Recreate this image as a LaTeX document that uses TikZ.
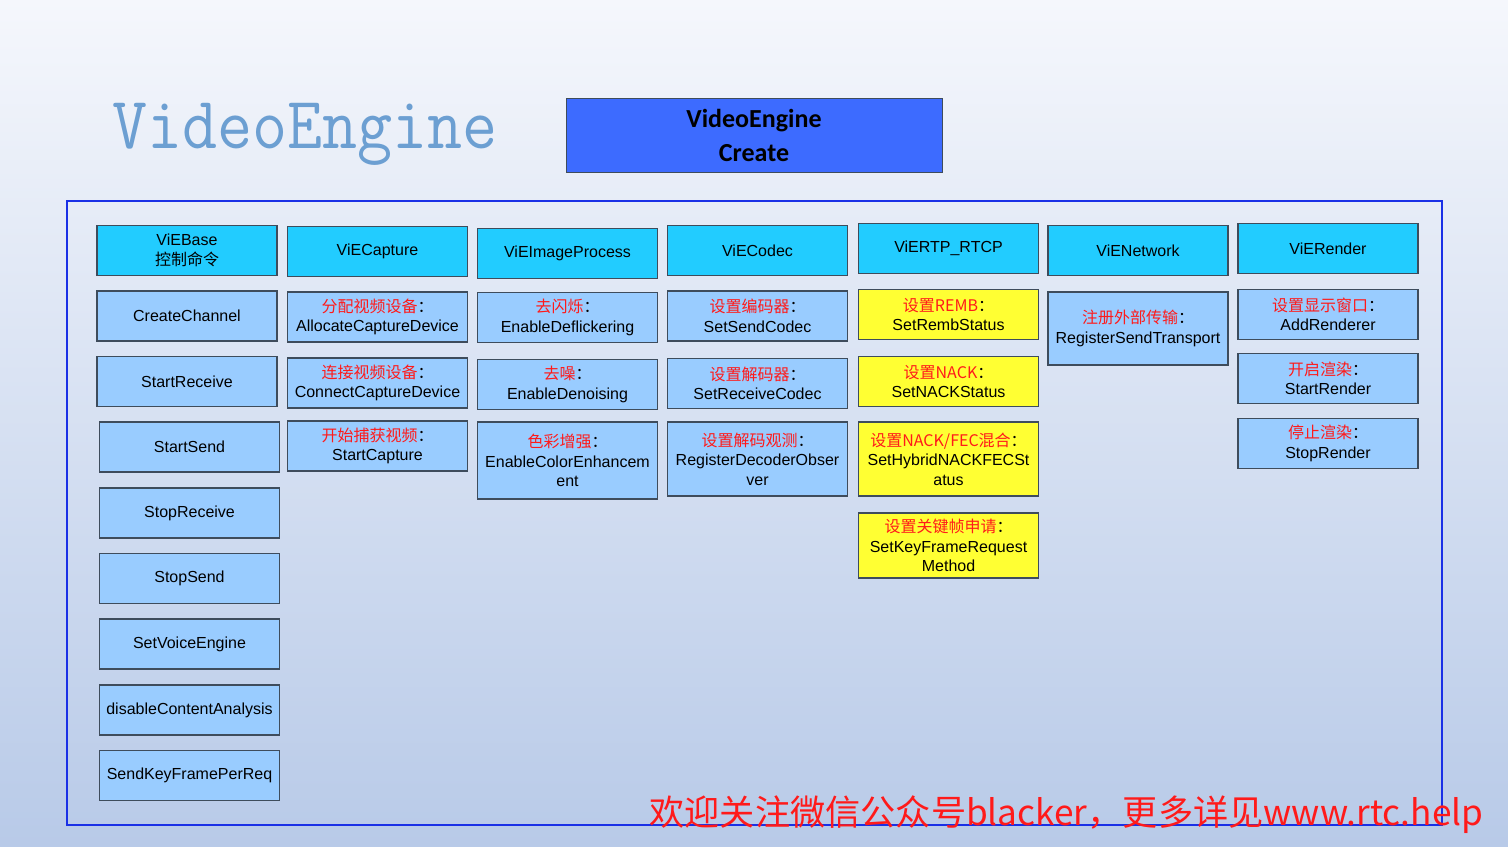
\documentclass[tikz,border=0pt]{standalone}
\usepackage{fontspec}
\setmainfont{Liberation Sans}
\newfontfamily\cjk{Noto Sans CJK SC}
\newfontfamily\boldcal{Carlito}
\usepackage{tikz}

\definecolor{bgtop}{HTML}{F5F7FC}
\definecolor{bgbot}{HTML}{B8CAE8}
\definecolor{hdrcyan}{HTML}{22CCFF}
\definecolor{fnblue}{HTML}{99CCFF}
\definecolor{fnyellow}{HTML}{FFFF33}
\definecolor{boxline}{HTML}{3E4C5C}
\definecolor{cnred}{HTML}{FF1A1A}
\definecolor{titleblue}{HTML}{6C9FD2}
\definecolor{frameblue}{HTML}{1A30E6}
\definecolor{topblue}{HTML}{3D6BFF}

\newcommand\fnlabel[2]{{\cjk\color{cnred}#1}{\cjk ：}\\#2}

\begin{document}
\begin{tikzpicture}[x=0.5pt,y=-0.5pt,
  box/.style={draw=boxline,line width=0.6pt,minimum width=90pt,minimum height=25pt,
    align=center,inner sep=1pt,font=\fontsize{8}{9.75}\selectfont},
  hdr/.style={box,fill=hdrcyan},
  fn/.style={box,fill=fnblue},
  yfn/.style={box,fill=fnyellow}]

\shade[top color=bgtop,bottom color=bgbot] (0,0) rectangle (1508,846);
\useasboundingbox (0,0) rectangle (1508,846);

\node[anchor=base west,inner sep=0,text=titleblue,xscale=0.92,
  font=\ttfamily\fontsize{37}{37}\selectfont] (title) at (112,148) {VideoEngine};
\node[draw=boxline,fill=topblue,minimum width=188pt,minimum height=37pt,align=center,
  font=\boldcal\bfseries\fontsize{13}{17}\selectfont] (engine create) at (754,135) {VideoEngine\\Create};

\draw[frameblue,line width=1pt] (67,201) rectangle (1442,825);

% ViEBase
\node[hdr] (base) at (187,250.5) {ViEBase\\{\cjk 控制命令}};
\node[fn] (create channel) at (187,316) {CreateChannel};
\node[fn] (start receive) at (187,381.5) {StartReceive};
\node[fn] (start send) at (189.5,447) {StartSend};
\node[fn] (stop receive) at (189.5,513) {StopReceive};
\node[fn] (stop send) at (189.5,578.5) {StopSend};
\node[fn] (set voice) at (189.5,644) {SetVoiceEngine};
\node[fn] (disable analysis) at (189.5,710) {disableContentAnalysis};
\node[fn] (send keyframe) at (189.5,775.5) {SendKeyFramePerReq};

% ViECapture
\node[hdr] (capture) at (377.5,251.5) {ViECapture};
\node[fn] (allocate) at (377.5,317) {\fnlabel{分配视频设备}{AllocateCaptureDevice}};
\node[fn] (connect) at (377.5,383) {\fnlabel{连接视频设备}{ConnectCaptureDevice}};
\node[fn] (start capture) at (377.5,446) {\fnlabel{开始捕获视频}{StartCapture}};

% ViEImageProcess
\node[hdr] (image) at (567.5,253.5) {ViEImageProcess};
\node[fn] (deflicker) at (567.5,317.5) {\fnlabel{去闪烁}{EnableDeflickering}};
\node[fn] (denoise) at (567.5,384.5) {\fnlabel{去噪}{EnableDenoising}};
\node[fn,minimum height=38.5pt] (color) at (567.5,460.5) {\fnlabel{色彩增强}{EnableColorEnhancem\\ent}};

% ViECodec
\node[hdr] (codec) at (757.5,250.5) {ViECodec};
\node[fn] (send codec) at (757.5,316) {\fnlabel{设置编码器}{SetSendCodec}};
\node[fn] (receive codec) at (757.5,383.5) {\fnlabel{设置解码器}{SetReceiveCodec}};
\node[fn,minimum height=37pt] (decoder observer) at (757.5,459) {\fnlabel{设置解码观测}{RegisterDecoderObser\\ver}};

% ViERTP_RTCP
\node[hdr] (rtp) at (948.5,248.5) {ViERTP\_RTCP};
\node[yfn] (remb) at (948.5,314.5) {\fnlabel{设置REMB}{SetRembStatus}};
\node[yfn] (nack) at (948.5,381.5) {\fnlabel{设置NACK}{SetNACKStatus}};
\node[yfn,minimum height=37pt] (hybrid) at (948.5,459) {\fnlabel{设置NACK/FEC混合}{SetHybridNACKFECSt\\atus}};
\node[yfn,minimum height=32.5pt] (keyframe) at (948.5,545.5) {\fnlabel{设置关键帧申请}{SetKeyFrameRequest\\Method}};

% ViENetwork
\node[hdr] (network) at (1138,250.5) {ViENetwork};
\node[fn,minimum height=36.5pt] (transport) at (1138,328.5) {\fnlabel{注册外部传输}{RegisterSendTransport}};

% ViERender
\node[hdr] (render) at (1328,248.5) {ViERender};
\node[fn] (add renderer) at (1328,314.5) {\fnlabel{设置显示窗口}{AddRenderer}};
\node[fn] (start render) at (1328,378.5) {\fnlabel{开启渲染}{StartRender}};
\node[fn] (stop render) at (1328,443.5) {\fnlabel{停止渲染}{StopRender}};

\node[anchor=west,inner sep=0,text=cnred,font=\cjk\fontsize{17.6}{18}\selectfont] (watermark)
  at (649,815) {欢迎关注微信公众号blacker，更多详见www.rtc.help};

\end{tikzpicture}
\end{document}
